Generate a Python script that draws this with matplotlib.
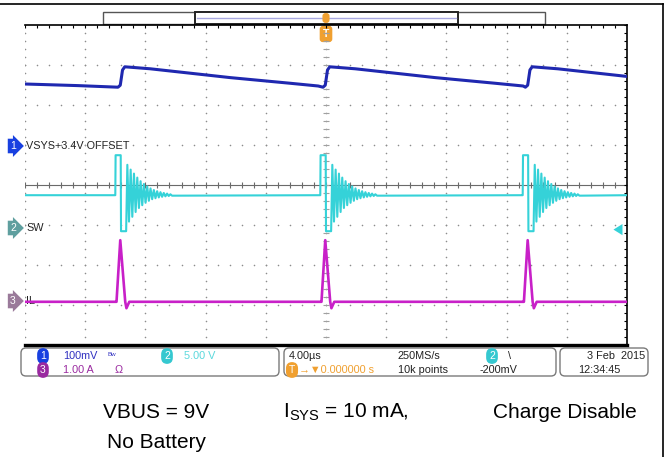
import numpy as np
import matplotlib.pyplot as plt
from matplotlib.patches import Rectangle, FancyBboxPatch, Polygon

plt.rcParams['mathtext.fontset'] = 'custom'
plt.rcParams['mathtext.rm'] = 'Liberation Sans'
scope_font = ['Liberation Sans', 'DejaVu Sans']

# ---- values (time in us, trigger at 0) ----
edge_times = [-13.62, 0.0, 13.45]   # SW falling edges

# CH1 VSYS, 100 mV/div, 3.4 V offset
vsys_offset = 3.4
vsys_scale = 0.1
vsys_pos = 0.975
vsys_lead_t = [-20.0, -16.5]
vsys_lead_v = [3.555, 3.551]
vsys_pulse_t = [-0.20, -0.05, 0.10, 0.25, 0.60, 1.95, 4.60, 7.25, 11.20, 13.10]
vsys_pulse_v = [3.547, 3.552, 3.590, 3.598, 3.597, 3.593, 3.582, 3.571, 3.557, 3.550]

# CH2 SW, 5 V/div
sw_scale = 5.0
sw_pos = -1.075
sw_lead_t = [-20.0]
sw_lead_v = [4.1]
sw_pulse_t = [-0.42, -0.38, -0.36, -0.02, 0.00, 0.34]
sw_pulse_v = [4.1, 4.1, 9.1, 9.1, -0.4, -0.4]
sw_ring_t = [0.42, 0.53, 0.64, 0.75, 0.86, 0.97, 1.08, 1.19, 1.30, 1.41,
             1.52, 1.63, 1.74, 1.85, 1.96, 2.07, 2.18, 2.29, 2.40, 2.51,
             2.62, 2.73, 2.84, 2.95, 3.06, 3.17, 3.28, 3.39]
sw_ring_v = [7.9, 0.8, 7.3, 1.4, 6.8, 2.0, 6.3, 2.5, 5.85, 2.85,
             5.5, 3.15, 5.2, 3.4, 4.95, 3.6, 4.75, 3.72, 4.6, 3.82,
             4.48, 3.9, 4.38, 3.96, 4.3, 4.0, 4.22, 4.04]
sw_tail_t = [20.0]
sw_tail_v = [4.1]

# CH3 IL, 1 A/div
il_scale = 1.0
il_pos = -2.9
il_lead_t = [-20.0]
il_lead_v = [-0.02]
il_pulse_t = [-0.35, -0.30, -0.05, 0.28, 0.36, 0.55]
il_pulse_v = [-0.02, -0.02, 1.52, -0.02, -0.18, -0.02]
il_tail_t = [20.0]
il_tail_v = [-0.02]


def build(lead_t, lead_v, tpl_t, tpl_v, tail_t=(), tail_v=()):
    t = list(lead_t)
    v = list(lead_v)
    for e in edge_times:
        t += [e + x for x in tpl_t]
        v += list(tpl_v)
    t += list(tail_t)
    v += list(tail_v)
    return np.array(t), np.array(v)


vsys_t, vsys_v = build(vsys_lead_t, vsys_lead_v, vsys_pulse_t, vsys_pulse_v)
sw_t, sw_v = build(sw_lead_t, sw_lead_v, sw_pulse_t + sw_ring_t,
                   sw_pulse_v + sw_ring_v, sw_tail_t, sw_tail_v)
il_t, il_v = build(il_lead_t, il_lead_v, il_pulse_t, il_pulse_v, il_tail_t, il_tail_v)

W, H = 668, 457
fig = plt.figure(figsize=(W / 100, H / 100), dpi=100)
bg = fig.add_axes([0, 0, 1, 1])
bg.set_xlim(0, W)
bg.set_ylim(H, 0)
bg.axis('off')

# graticule area in pixels
gl, gr, gt, gb = 25, 627, 25, 345
ax = fig.add_axes([gl / W, (H - gb) / H, (gr - gl) / W, (gb - gt) / H])
ax.set_xlim(-20, 20)
ax.set_ylim(-4, 4)
ax.axis('off')
ax.patch.set_alpha(0)

# outer frame
bg.plot([0, 663], [4, 4], color='black', lw=1.2)
bg.plot([663, 663], [4, H], color='black', lw=1.2)

# record-length bar on top
bg.add_patch(Rectangle((103, 12), 442, 12, fc='white', ec='#555555', lw=1))
bg.add_patch(Rectangle((195, 12), 263, 12, fc='white', ec='#222222', lw=1.4))
bg.plot([197, 456], [17.5, 17.5], color='#a8a8e0', lw=1)
bg.text(326, 18, ' ', fontsize=3, ha='center', va='center',
        bbox=dict(boxstyle='round,pad=0.7', fc='#f0a030', ec='none'))

# grid dots
dot_x = np.arange(-20, 20.01, 0.8)
dot_y = np.arange(-4, 4.01, 0.2)
for gy in range(-3, 4):
    ax.scatter(dot_x, np.full_like(dot_x, gy), s=1.3, color='#8c8c8c', lw=0)
for gx in range(-20, 20, 4):
    ax.scatter(np.full_like(dot_y, gx), dot_y, s=1.3, color='#8c8c8c', lw=0)

# center cross with ticks
ax.plot([-20, 20], [0, 0], color='#6a6a6a', lw=0.8)
ax.vlines(dot_x, -0.07, 0.07, color='#6a6a6a', lw=0.8)
ax.hlines(dot_y, -0.2, 0.2, color='#a0a0a0', lw=0.8)

# borders
ax.plot([-20, 20], [4, 4], color='black', lw=1.2, clip_on=False)
ax.vlines(dot_x, 3.92, 4, color='black', lw=0.8)
ax.plot([20, 20], [-4, 4], color='black', lw=1.2, clip_on=False)
ax.hlines(dot_y, 19.8, 20, color='black', lw=0.8)
ax.plot([-20, 20], [-4, -4], color='black', lw=2.4, clip_on=False)

# traces
ax.plot(vsys_t, vsys_pos + (vsys_v - vsys_offset) / vsys_scale, color='#1f28b0', lw=2.2)
ax.plot(sw_t, sw_pos + sw_v / sw_scale, color='#35d2d8', lw=1.5)
ax.plot(il_t, il_pos + il_v / il_scale, color='#c820c8', lw=1.9)

# trigger level marker (right) and trigger position marker (top)
ax.add_patch(Polygon([[19.1, sw_pos - 0.04], [19.7, sw_pos + 0.1], [19.7, sw_pos - 0.18]],
                     closed=True, fc='#35d2d8', ec='none'))
bg.text(326, 34, 'T', fontsize=7.5, color='white', ha='center', va='center', weight='bold',
        family=scope_font, bbox=dict(boxstyle='round,pad=0.3', fc='#f0a030', ec='none'))

# channel markers on the left
for pos, num, col, label in [(vsys_pos, '1', '#1840e0', 'VSYS+3.4V OFFSET'),
                             (sw_pos, '2', '#5f9f9f', 'SW'),
                             (il_pos, '3', '#9a7a9a', 'IL')]:
    yp = 185 - pos * 40
    bg.text(13, yp, num, fontsize=7.5, color='white', ha='center', va='center',
            family=scope_font,
            bbox=dict(boxstyle='rarrow,pad=0.22', fc=col, ec='none'))
    bg.text(26, yp, label, fontsize=7.8, color='#222222', ha='left', va='center',
            family=scope_font)

# status panel
for x0, x1 in [(21, 279), (284, 556), (560, 648)]:
    bg.add_patch(FancyBboxPatch((x0, 348), x1 - x0, 28,
                                boxstyle='round,pad=0,rounding_size=5',
                                fc='white', ec='#7a7a7a', lw=1))

r1, r2 = 356, 370


def badge(x, y, s, col):
    bg.text(x, y, s, fontsize=7.5, color='white', ha='center', va='center',
            family=scope_font, bbox=dict(boxstyle='round,pad=0.28,rounding_size=0.6',
                                         fc=col, ec='none'))


st = dict(fontsize=7.8, va='center', family=scope_font)
badge(43, r1, '1', '#1840e0')
bg.text(63, r1, '100mV', color='#3030c0', **st)
bg.text(108, r1 - 2, 'Bw', fontsize=4.5, color='#3030c0', va='center', family=scope_font)
badge(167, r1, '2', '#35c8d0')
bg.text(184, r1, '5.00 V', color='#5ad8dc', **st)
badge(43, r2, '3', '#9a2aa0')
bg.text(63, r2, '1.00 A', color='#9a2aa0', **st)
bg.text(115, r2, 'Ω', color='#9a2aa0', **st)

bg.text(289, r1, '4.00µs', color='#222222', **st)
bg.text(398, r1, '250MS/s', color='#222222', **st)
badge(492, r1, '2', '#35c8d0')
bg.text(508, r1, '\\', color='#222222', **st)
badge(292, r2, 'T', '#f0a030')
bg.text(299, r2, '→▼0.000000 s', color='#f0a030', **st)
bg.text(398, r2, '10k points', color='#222222', **st)
bg.text(480, r2, '-200mV', color='#222222', **st)

bg.text(645, r1, '3 Feb  2015', color='#222222', ha='right', **st)
bg.text(578, r2, '12:34:45', color='#222222', **st)

# caption
cap = dict(fontsize=15, color='black', va='center', family='Liberation Sans')
bg.text(103, 412, 'VBUS = 9V', **cap)
bg.text(283, 412, r'I$_{\mathrm{SYS}}$ = 10 mA,', **cap)
bg.text(493, 412, 'Charge Disable', **cap)
bg.text(107, 443, 'No Battery', **cap)

fig.savefig('out.png', dpi=100)
